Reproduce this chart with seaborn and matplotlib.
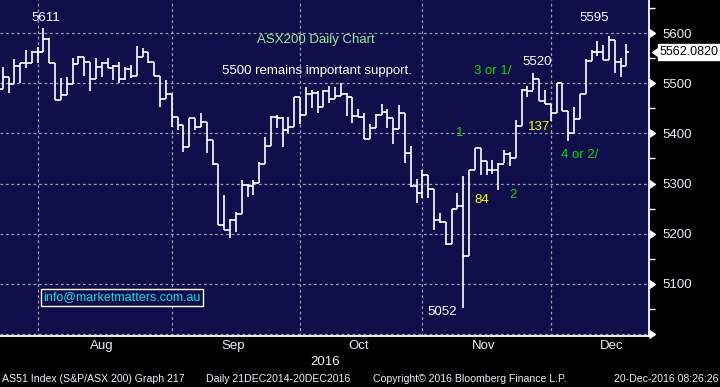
import numpy as np
import pandas as pd
import seaborn as sns
import matplotlib.pyplot as plt

# ----- daily bars (AS51, 22-Jul-2016 .. 20-Dec-2016) -----
first_day = "2016-07-22"
last_day = "2016-12-20"

opens = [5488, 5512, 5498, 5535, 5540, 5540, 5562, 5562, 5589, 5540,
         5467, 5476, 5498, 5538, 5553, 5543, 5508, 5533, 5540, 5531,
         5535, 5508, 5528, 5515, 5553, 5562, 5543, 5515, 5469, 5478,
         5432, 5417, 5373, 5430, 5413, 5423, 5387, 5338, 5217, 5207,
         5227, 5240, 5298, 5295, 5302, 5339, 5375, 5433, 5430, 5407,
         5412, 5472, 5437, 5479, 5481, 5453, 5485, 5469, 5475, 5478,
         5473, 5435, 5433, 5388, 5411, 5437, 5442, 5430, 5409, 5441,
         5360, 5295, 5282, 5318, 5290, 5228, 5223, 5180, 5250, 5255,
         5155, 5328, 5370, 5345, 5327, 5328, 5339, 5359, 5350, 5415,
         5487, 5485, 5508, 5465, 5459, 5440, 5500, 5445, 5400, 5429,
         5478, 5545, 5562, 5563, 5547, 5587, 5543, 5535]
highs = [5533, 5512, 5549, 5540, 5567, 5565, 5573, 5611, 5590, 5540,
         5511, 5512, 5550, 5555, 5553, 5543, 5550, 5543, 5550, 5537,
         5543, 5533, 5537, 5575, 5570, 5562, 5543, 5515, 5507, 5478,
         5432, 5417, 5430, 5430, 5440, 5423, 5387, 5338, 5277, 5230,
         5243, 5307, 5300, 5307, 5343, 5393, 5435, 5437, 5433, 5433,
         5473, 5473, 5492, 5487, 5485, 5487, 5495, 5492, 5500, 5480,
         5473, 5448, 5441, 5418, 5438, 5458, 5449, 5430, 5457, 5441,
         5375, 5310, 5328, 5318, 5290, 5241, 5223, 5250, 5282, 5315,
         5328, 5370, 5370, 5345, 5347, 5340, 5367, 5362, 5427, 5488,
         5495, 5520, 5508, 5487, 5459, 5500, 5500, 5445, 5452, 5478,
         5549, 5567, 5585, 5577, 5595, 5587, 5550, 5579]
lows = [5488, 5480, 5498, 5500, 5531, 5540, 5540, 5562, 5540, 5467,
        5467, 5476, 5498, 5538, 5515, 5485, 5508, 5513, 5531, 5507,
        5500, 5507, 5511, 5515, 5553, 5540, 5515, 5453, 5469, 5413,
        5407, 5363, 5373, 5407, 5412, 5360, 5337, 5217, 5207, 5192,
        5203, 5240, 5273, 5277, 5302, 5339, 5375, 5410, 5373, 5400,
        5412, 5418, 5437, 5450, 5441, 5452, 5460, 5469, 5475, 5435,
        5421, 5432, 5388, 5388, 5410, 5437, 5411, 5378, 5408, 5341,
        5293, 5262, 5272, 5272, 5207, 5221, 5178, 5180, 5250, 5052,
        5155, 5328, 5317, 5317, 5320, 5288, 5340, 5335, 5350, 5415,
        5473, 5487, 5465, 5459, 5425, 5440, 5445, 5385, 5400, 5429,
        5478, 5545, 5555, 5547, 5547, 5520, 5512, 5535]
closes = [5512, 5498, 5535, 5540, 5540, 5562, 5562, 5589, 5540, 5467,
          5476, 5498, 5538, 5553, 5543, 5508, 5533, 5540, 5531, 5535,
          5508, 5528, 5515, 5553, 5562, 5543, 5515, 5469, 5478, 5432,
          5417, 5373, 5430, 5413, 5423, 5387, 5338, 5217, 5207, 5227,
          5240, 5298, 5295, 5302, 5339, 5375, 5433, 5430, 5407, 5412,
          5472, 5437, 5479, 5481, 5453, 5485, 5469, 5475, 5478, 5473,
          5435, 5433, 5388, 5411, 5437, 5442, 5430, 5409, 5441, 5360,
          5295, 5282, 5318, 5290, 5228, 5223, 5180, 5250, 5255, 5155,
          5328, 5370, 5345, 5327, 5328, 5339, 5359, 5350, 5415, 5487,
          5485, 5508, 5465, 5459, 5440, 5500, 5445, 5400, 5429, 5478,
          5545, 5562, 5563, 5547, 5587, 5543, 5535, 5562]
last_price = "5562.0820"

price_ticks = [5000, 5100, 5200, 5300, 5400, 5500, 5600]

# (text, bar position, price level, colour)
notes = [
    ("5611", 7.4, 5631, "white"),
    ("5595", 101.4, 5631, "white"),
    ("5520", 91.6, 5543, "white"),
    ("5052", 75.4, 5043, "white"),
    ("ASX200 Daily Chart", 53.8, 5587, "#8ef08e"),
    ("5500 remains important support.", 53.9, 5525, "white"),
    ("3 or 1/", 84.1, 5525, "#00dd00"),
    ("1", 78.4, 5400, "#00dd00"),
    ("2", 87.5, 5277, "#00dd00"),
    ("4 or 2/", 99.0, 5357, "#00dd00"),
    ("137", 92.0, 5412, "#ffff00"),
    ("84", 82.2, 5268, "#ffff00"),
]

# ====================================================================================================
# ===== Figure =======================================================================================
# ====================================================================================================

sns.set_style("dark")
plt.rcParams['font.family'] = ['Liberation Sans', 'DejaVu Sans']

navy = "#0f0e4a"
grid_col = "#9c9cae"
text_col = "#ececf6"

dates = pd.bdate_range(first_day, last_day)
bars = pd.DataFrame({"day": dates, "pos": np.arange(len(dates)),
                     "open": opens, "high": highs, "low": lows, "close": closes})

fig = plt.figure(figsize=(7.2, 3.87), dpi=100, facecolor="black")
ax = fig.add_axes([0, 1 - 336 / 387, 649 / 720, 336 / 387])
ax.set_facecolor(navy)

# high-low stems, open ticks on the left, close ticks on the right
ax.vlines(bars["pos"], bars["low"], bars["high"], color="white", lw=1.2, zorder=3)
sns.scatterplot(data=bars, x="pos", y="open", marker=0, s=6, color="white",
                linewidth=1.2, ax=ax, legend=False, zorder=3)
sns.scatterplot(data=bars, x="pos", y="close", marker=1, s=6, color="white",
                linewidth=1.2, ax=ax, legend=False, zorder=3)

ax.set_xlim(-0.46, 110.86)
ax.set_ylim(4996, 5666)
ax.set_xlabel("")
ax.set_ylabel("")

# months: grid/ticks at the first session, labels centred on the full month
month_starts = bars.groupby(bars["day"].dt.month)["pos"].min()
label_pos, label_txt = [], []
for m, p in month_starts.items():
    if bars.loc[p, "day"].day > 7:
        continue
    n_days = len(pd.bdate_range(bars.loc[p, "day"], bars.loc[p, "day"] + pd.offsets.MonthEnd(0)))
    label_pos.append(p + (n_days - 1) / 2)
    label_txt.append(bars.loc[p, "day"].strftime("%b"))
grid_x = [p for p in month_starts.values if bars.loc[p, "day"].day <= 7]

ax.set_xticks(grid_x)
ax.set_xticklabels([])
ax.set_xticks(label_pos, minor=True)
ax.set_xticklabels(label_txt, minor=True)
ax.tick_params(axis="x", which="major", length=4, width=1, color="white", direction="out")
ax.tick_params(axis="x", which="minor", length=0, pad=3, labelsize=9.5, labelcolor=text_col)

ax.yaxis.tick_right()
ax.set_yticks(price_ticks)
ax.set_yticklabels([""] + [str(v) for v in price_ticks[1:]])
ax.set_yticks(np.arange(5050, 5666, 100), minor=True)
ax.tick_params(axis="y", which="major", length=0, pad=10, labelsize=9.5, labelcolor=text_col)
ax.tick_params(axis="y", which="minor", length=4, width=1, color="white", direction="out")
ax.plot([1.0] * len(price_ticks), price_ticks, ls="none", marker=9, ms=5.5, color="white",
        transform=ax.get_yaxis_transform(), clip_on=False)

ax.grid(True, which="major", color=grid_col, lw=0.9, ls=(0, (2.2, 2.2)))
ax.set_axisbelow(True)
for side in ["top", "left"]:
    ax.spines[side].set_visible(False)
for side in ["right", "bottom"]:
    ax.spines[side].set_visible(True)
    ax.spines[side].set_color("white")
    ax.spines[side].set_linewidth(1.3)

# last price flag
ax.text(660 / 649, float(last_price), last_price, transform=ax.get_yaxis_transform(),
        ha="left", va="center", fontsize=9, color="black", clip_on=False,
        bbox=dict(boxstyle="square,pad=0.15", fc="white", ec="white"))
ax.plot([658 / 649], [float(last_price)], ls="none", marker=8, ms=6, color="white",
        transform=ax.get_yaxis_transform(), clip_on=False)

for txt, xp, yp, col in notes:
    ax.text(xp, yp, txt, color=col, fontsize=9.5, ha="center", va="center")

ax.text(43 / 649, 0.116, "info@marketmatters.com.au", transform=ax.transAxes, color="#10e0e0",
        fontsize=9, ha="left", va="center",
        bbox=dict(boxstyle="square,pad=0.2", fc=navy, ec="white", lw=1.0))

fig.text(325 / 720, 1 - 362 / 387, "2016", color=text_col, fontsize=9.5, ha="center", va="center")
foot_y = 1 - 379 / 387
fig.text(2 / 720, foot_y, "AS51 Index (S&P/ASX 200) Graph 217", color=text_col, fontsize=7.6, va="center")
fig.text(206 / 720, foot_y, "Daily 21DEC2014-20DEC2016", color=text_col, fontsize=7.6, va="center")
fig.text(373 / 720, foot_y, "Copyright\u00a9 2016 Bloomberg Finance L.P.", color=text_col, fontsize=7.6, va="center")
fig.text(718 / 720, foot_y, "20-Dec-2016 08:26:26", color=text_col, fontsize=7.6, va="center", ha="right")

fig.savefig("out.png", dpi=100, facecolor="black")
